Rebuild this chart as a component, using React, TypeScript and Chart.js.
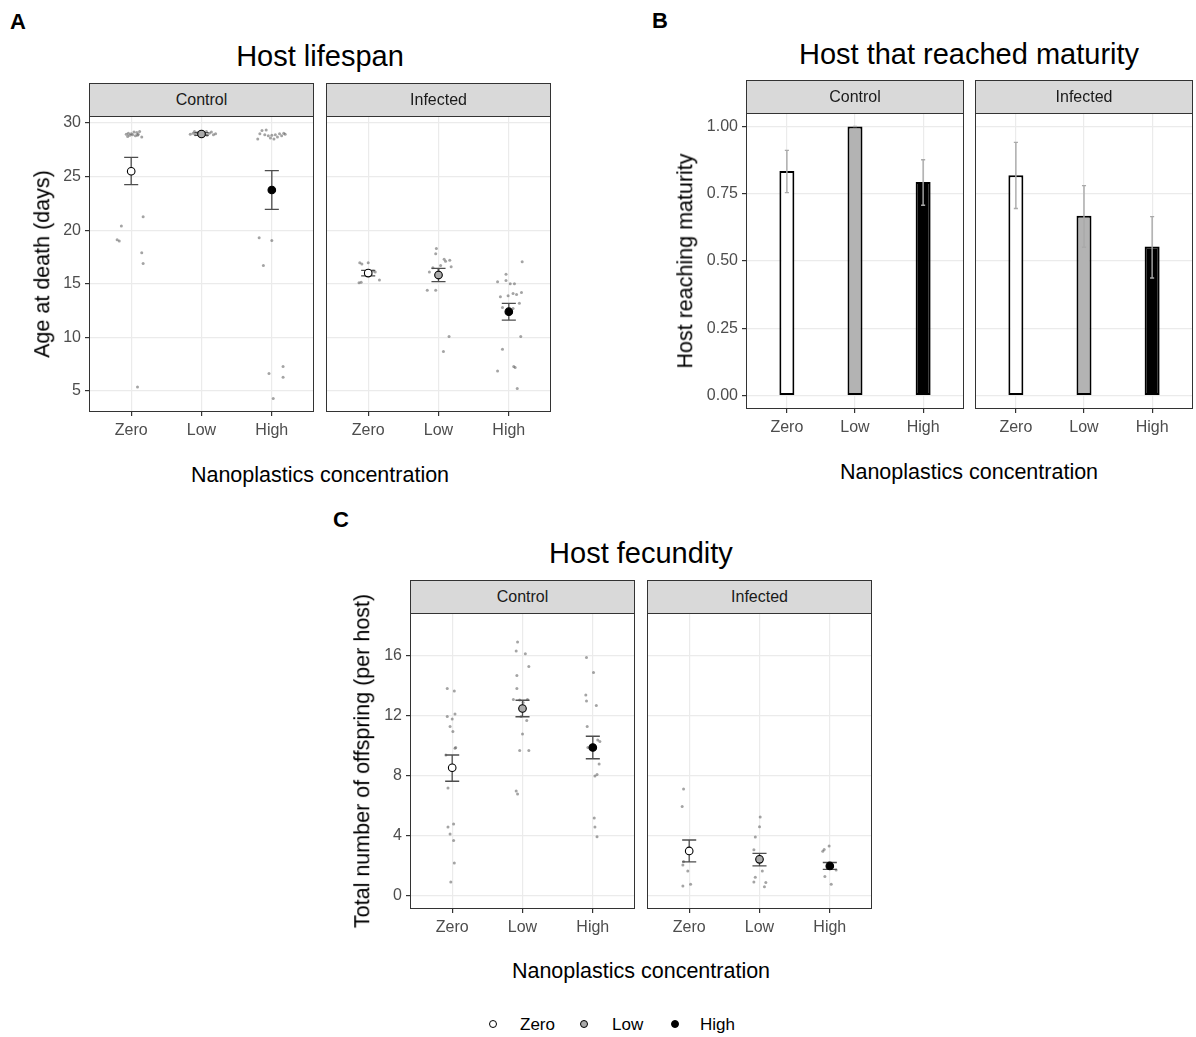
import React, { useEffect, useRef } from 'react';
import { Chart, registerables } from 'chart.js';

Chart.register(...registerables);

const FONT = '"Liberation Sans", Arial, Helvetica, sans-serif';

// ---------- shared ----------
const CATEGORIES = ['Zero', 'Low', 'High'];
const CAT_POS = [1, 2, 3];
const MEAN_FILLS = ['#ffffff', '#aaaaaa', '#000000'];
const BAR_FILLS = ['#ffffff', '#b3b3b3', '#000000'];

// ---------- A: Host lifespan ----------
const A_Y_TICKS = [5, 10, 15, 20, 25, 30];
const A_CTRL_X = [
  0.93, 0.96, 0.98, 1.0, 1.02, 1.04, 1.06, 1.08, 1.1, 1.12, 1.15, 0.95, 1.09,
  1.17, 0.86, 0.8, 0.83, 1.15, 1.17, 1.09,
  1.84, 1.88, 1.91, 1.94, 1.97, 2.0, 2.03, 2.05, 2.08, 2.11, 2.14, 2.17, 2.2, 1.9, 2.07,
  2.8, 2.83, 2.86, 2.9, 2.92, 2.95, 2.98, 3.0, 3.03, 3.05, 3.08, 3.11, 3.14, 3.17, 3.19,
  2.82, 3.0, 2.88, 2.96, 3.16, 3.16, 3.02,
];
const A_CTRL_Y = [
  28.95, 29.05, 28.85, 29.0, 28.9, 29.15, 28.8, 29.1, 28.95, 29.2, 28.7, 28.75, 28.85,
  21.26, 20.4, 19.1, 19.0, 17.9, 16.9, 5.37,
  28.95, 29.05, 28.9, 29.1, 28.85, 29.0, 29.1, 28.95, 28.85, 29.05, 29.15, 28.9, 29.0, 29.2, 29.2,
  28.5, 29.0, 29.3, 28.9, 29.35, 28.8, 28.6, 28.85, 28.5, 28.9, 28.7, 29.0, 28.8, 29.05, 28.95,
  19.3, 19.05, 16.7, 6.65, 7.3, 6.3, 4.3,
];
const A_CTRL_MEAN = [25.5, 28.97, 23.75];
const A_CTRL_LO = [24.25, 28.85, 21.95];
const A_CTRL_HI = [26.8, 29.1, 25.55];

const A_INF_X = [
  0.88, 0.91, 1.0, 1.1, 1.07, 0.98, 0.87, 0.9, 1.16, 1.04,
  1.97, 1.96, 2.08, 2.16, 2.03, 2.18, 1.87, 1.92, 2.0, 1.84, 1.96, 2.15, 2.07, 2.1,
  3.19, 2.96, 2.84, 2.96, 3.02, 3.08, 2.88, 2.99, 3.06, 3.11, 3.18, 3.15, 2.91, 3.06, 3.17, 2.91, 3.07, 3.09, 2.84, 3.12,
];
const A_INF_Y = [
  16.97, 16.85, 16.97, 16.1, 16.2, 16.05, 15.1, 15.15, 15.35, 15.9,
  18.3, 17.8, 17.3, 17.2, 16.7, 16.6, 16.1, 16.5, 16.3, 14.4, 14.4, 10.1, 8.7, 17.1,
  17.05, 15.9, 15.2, 15.3, 15.0, 15.0, 13.8, 13.9, 14.1, 14.0, 14.2, 13.2, 12.8, 12.7, 10.1, 8.9, 7.3, 7.2, 6.87, 5.25,
];
const A_INF_MEAN = [16.0, 15.82, 12.4];
const A_INF_LO = [15.75, 15.2, 11.62];
const A_INF_HI = [16.25, 16.44, 13.18];

// ---------- B: Host that reached maturity ----------
const B_Y_TICKS = [0, 0.25, 0.5, 0.75, 1.0];
const B_CTRL_VAL = [0.834, 1.0, 0.794];
const B_CTRL_LO = [0.754, 1.0, 0.707];
const B_CTRL_HI = [0.911, 1.0, 0.876];
const B_INF_VAL = [0.819, 0.668, 0.554];
const B_INF_LO = [0.695, 0.551, 0.437];
const B_INF_HI = [0.941, 0.78, 0.665];

// ---------- C: Host fecundity ----------
const C_Y_TICKS = [0, 4, 8, 12, 16];
const C_CTRL_X = [
  0.93, 1.03, 1.04, 0.93, 1.0, 0.97, 1.01, 1.05, 1.04, 0.91, 0.94, 1.02, 0.94, 0.97, 1.02, 1.03, 0.98,
  1.93, 1.91, 2.04, 2.09, 1.92, 1.92, 1.87, 1.96, 2.07, 2.01, 1.98, 2.06, 2.0, 1.96, 2.09, 1.91, 1.93,
  2.91, 3.01, 2.9, 2.91, 3.05, 2.92, 2.93, 3.07, 3.1, 3.09, 3.06, 3.03, 3.02, 3.03, 3.06,
];
const C_CTRL_Y = [
  13.84, 13.66, 12.13, 11.96, 11.8, 11.3, 10.96, 9.9, 9.85, 9.4, 7.2, 4.8, 4.6, 4.13, 3.7, 2.2, 0.93,
  16.93, 16.33, 16.16, 15.3, 14.7, 13.84, 13.1, 13.07, 13.1, 12.9, 11.96, 11.7, 10.8, 9.7, 9.7, 7.0, 6.8,
  15.9, 14.9, 13.4, 13.0, 12.7, 11.3, 9.9, 10.4, 10.3, 8.8, 8.1, 8.0, 5.2, 4.6, 3.95,
];
const C_CTRL_MEAN = [8.55, 12.5, 9.9];
const C_CTRL_LO = [7.65, 11.95, 9.15];
const C_CTRL_HI = [9.4, 13.05, 10.65];

const C_INF_X = [
  0.92, 0.9, 0.91, 0.98, 0.91, 1.02, 0.92,
  2.01, 2.0, 1.94, 1.92, 2.04, 1.94, 1.92, 2.09, 2.07,
  2.9, 2.92, 2.99, 2.93, 3.02, 3.09,
];
const C_INF_Y = [
  7.13, 5.96, 2.07, 1.67, 0.67, 0.78, 2.3,
  5.26, 4.62, 3.93, 3.08, 1.67, 1.24, 0.93, 0.89, 0.62,
  2.98, 3.1, 3.33, 1.3, 0.78, 1.73,
];
const C_INF_MEAN = [3.0, 2.44, 2.0];
const C_INF_LO = [2.27, 2.0, 1.77];
const C_INF_HI = [3.73, 2.84, 2.23];

// ---------- facet component ----------
type FacetSpec = {
  kind: 'dots' | 'bars';
  left: number;
  top: number;
  width: number;
  height: number;
  showY: boolean;
  yMin: number;
  yMax: number;
  yTicks: number[];
  yFmt: (v: number) => string;
  jx?: number[];
  jy?: number[];
  mean: number[];
  lo: number[];
  hi: number[];
};

const YW = 70;
const XH = 34;
const PAD_TOP = 10;

function Facet({ spec }: { spec: FacetSpec }) {
  const ref = useRef<HTMLCanvasElement | null>(null);
  const yw = spec.showY ? YW : 0;
  const cw = yw + spec.width;
  const ch = PAD_TOP + spec.height + XH;
  const canvasLeft = spec.left - yw;
  const canvasTop = spec.top - PAD_TOP;

  useEffect(() => {
    const canvas = ref.current;
    if (!canvas) return;

    const borderPlugin = {
      id: 'panelBorder',
      afterDraw(chart: any) {
        const a = chart.chartArea;
        const ctx = chart.ctx;
        ctx.save();
        ctx.strokeStyle = '#333333';
        ctx.lineWidth = 1;
        ctx.strokeRect(a.left + 0.5, a.top + 0.5, a.right - a.left - 1, a.bottom - a.top - 1);
        ctx.restore();
      },
    };

    const drawErr = (chart: any, color: string, lw: number, halfCap: number) => {
      const ctx = chart.ctx;
      const xs = chart.scales.x;
      const ys = chart.scales.y;
      ctx.save();
      ctx.strokeStyle = color;
      ctx.lineWidth = lw;
      spec.lo.forEach((lo, i) => {
        const x = xs.getPixelForValue(CAT_POS[i]);
        const hw = xs.getPixelForValue(CAT_POS[i] + halfCap) - x;
        const y1 = ys.getPixelForValue(lo);
        const y2 = ys.getPixelForValue(spec.hi[i]);
        ctx.beginPath();
        ctx.moveTo(x, y1);
        ctx.lineTo(x, y2);
        ctx.moveTo(x - hw, y1);
        ctx.lineTo(x + hw, y1);
        ctx.moveTo(x - hw, y2);
        ctx.lineTo(x + hw, y2);
        ctx.stroke();
      });
      ctx.restore();
    };

    const errPlugin =
      spec.kind === 'dots'
        ? {
            id: 'errDots',
            afterDatasetDraw(chart: any, args: any) {
              if (args.index !== 1) return;
              drawErr(chart, '#4d4d4d', 1.3, 0.1);
            },
          }
        : {
            id: 'errBars',
            afterDatasetsDraw(chart: any) {
              drawErr(chart, '#a9a9a9', 1.4, 0.03);
            },
          };

    const datasets: any[] =
      spec.kind === 'dots'
        ? [
            {
              type: 'scatter',
              data: spec.mean.map((m, i) => ({ x: CAT_POS[i], y: m })),
              pointRadius: 3.8,
              pointBackgroundColor: MEAN_FILLS,
              pointBorderColor: '#000000',
              pointBorderWidth: 1.1,
            },
            {
              type: 'scatter',
              data: (spec.jx || []).map((x, i) => ({ x, y: (spec.jy || [])[i] })),
              pointRadius: 1.5,
              pointBackgroundColor: 'rgba(90,90,90,0.55)',
              pointBorderWidth: 0,
            },
          ]
        : [
            {
              type: 'bar',
              data: spec.mean.map((m, i) => ({ x: CAT_POS[i], y: m })),
              backgroundColor: BAR_FILLS,
              borderColor: '#000000',
              borderWidth: 2,
              borderSkipped: false,
              barPercentage: 0.22,
              categoryPercentage: 1,
            },
          ];

    const tickFont = { family: FONT, size: 16 };

    const chart = new Chart(canvas, {
      type: spec.kind === 'dots' ? 'scatter' : 'bar',
      data: { datasets },
      options: {
        responsive: false,
        animation: false,
        devicePixelRatio: 1,
        events: [],
        layout: { padding: { top: PAD_TOP, left: 0, right: 0, bottom: 0 }, autoPadding: false },
        plugins: {
          legend: { display: false },
          tooltip: { enabled: false },
          title: { display: false },
        },
        scales: {
          x: {
            type: 'linear',
            position: 'bottom',
            offset: false,
            min: 0.4,
            max: 3.6,
            afterBuildTicks: (s: any) => {
              s.ticks = CAT_POS.map((v) => ({ value: v }));
            },
            afterFit: (s: any) => {
              s.height = XH;
              s.paddingLeft = 0;
              s.paddingRight = 0;
              s.paddingTop = 0;
              s.paddingBottom = 0;
            },
            ticks: {
              callback: (v: any) => {
                const i = CAT_POS.indexOf(Number(v));
                return i >= 0 ? CATEGORIES[i] : '';
              },
              color: '#4d4d4d',
              font: tickFont,
              padding: 5,
              autoSkip: false,
              maxRotation: 0,
              minRotation: 0,
            },
            grid: {
              offset: false,
              color: '#ebebeb',
              lineWidth: 1.2,
              tickColor: '#333333',
              tickLength: 4,
              drawTicks: true,
            },
            border: { display: false },
          },
          y: {
            type: 'linear',
            position: 'left',
            min: spec.yMin,
            max: spec.yMax,
            afterBuildTicks: (s: any) => {
              s.ticks = spec.yTicks.map((v) => ({ value: v }));
            },
            afterFit: (s: any) => {
              s.width = yw;
              s.paddingLeft = 0;
              s.paddingRight = 0;
              s.paddingTop = 0;
              s.paddingBottom = 0;
            },
            ticks: {
              display: spec.showY,
              callback: (v: any) => spec.yFmt(Number(v)),
              color: '#4d4d4d',
              font: tickFont,
              padding: 4,
              autoSkip: false,
            },
            grid: {
              color: '#ebebeb',
              lineWidth: 1.2,
              tickColor: '#333333',
              tickLength: 4,
              drawTicks: spec.showY,
            },
            border: { display: false },
          },
        },
      } as any,
      plugins: [errPlugin as any, borderPlugin as any],
    } as any);

    return () => chart.destroy();
  }, []);

  return (
    <canvas
      ref={ref}
      width={cw}
      height={ch}
      style={{ position: 'absolute', left: canvasLeft, top: canvasTop, width: cw, height: ch, display: 'block' }}
    />
  );
}

function Strip({ left, top, width, height, label }: { left: number; top: number; width: number; height: number; label: string }) {
  return (
    <div
      style={{
        position: 'absolute',
        left,
        top,
        width,
        height,
        boxSizing: 'border-box',
        border: '1px solid #333333',
        background: '#d9d9d9',
        color: '#1a1a1a',
        fontFamily: FONT,
        fontSize: 16,
        display: 'flex',
        alignItems: 'center',
        justifyContent: 'center',
      }}
    >
      {label}
    </div>
  );
}

function Txt({
  x,
  y,
  size,
  bold,
  rotate,
  color,
  children,
}: {
  x: number;
  y: number;
  size: number;
  bold?: boolean;
  rotate?: boolean;
  color?: string;
  children: React.ReactNode;
}) {
  return (
    <div
      style={{
        position: 'absolute',
        left: x,
        top: y,
        transform: `translate(-50%, -50%)${rotate ? ' rotate(-90deg)' : ''}`,
        fontFamily: FONT,
        fontSize: size,
        fontWeight: bold ? 'bold' : 'normal',
        lineHeight: 1,
        whiteSpace: 'nowrap',
        color: color || '#000000',
      }}
    >
      {children}
    </div>
  );
}

const fmtInt = (v: number) => String(v);
const fmt2 = (v: number) => v.toFixed(2);

const FACETS: FacetSpec[] = [
  { kind: 'dots', left: 89, top: 116, width: 225, height: 296, showY: true, yMin: 3.05, yMax: 30.65, yTicks: A_Y_TICKS, yFmt: fmtInt, jx: A_CTRL_X, jy: A_CTRL_Y, mean: A_CTRL_MEAN, lo: A_CTRL_LO, hi: A_CTRL_HI },
  { kind: 'dots', left: 326, top: 116, width: 225, height: 296, showY: false, yMin: 3.05, yMax: 30.65, yTicks: A_Y_TICKS, yFmt: fmtInt, jx: A_INF_X, jy: A_INF_Y, mean: A_INF_MEAN, lo: A_INF_LO, hi: A_INF_HI },
  { kind: 'bars', left: 746, top: 113, width: 218, height: 296, showY: true, yMin: -0.05, yMax: 1.05, yTicks: B_Y_TICKS, yFmt: fmt2, mean: B_CTRL_VAL, lo: B_CTRL_LO, hi: B_CTRL_HI },
  { kind: 'bars', left: 975, top: 113, width: 218, height: 296, showY: false, yMin: -0.05, yMax: 1.05, yTicks: B_Y_TICKS, yFmt: fmt2, mean: B_INF_VAL, lo: B_INF_LO, hi: B_INF_HI },
  { kind: 'dots', left: 410, top: 613, width: 225, height: 296, showY: true, yMin: -0.87, yMax: 18.87, yTicks: C_Y_TICKS, yFmt: fmtInt, jx: C_CTRL_X, jy: C_CTRL_Y, mean: C_CTRL_MEAN, lo: C_CTRL_LO, hi: C_CTRL_HI },
  { kind: 'dots', left: 647, top: 613, width: 225, height: 296, showY: false, yMin: -0.87, yMax: 18.87, yTicks: C_Y_TICKS, yFmt: fmtInt, jx: C_INF_X, jy: C_INF_Y, mean: C_INF_MEAN, lo: C_INF_LO, hi: C_INF_HI },
];

const STRIPS = [
  { left: 89, top: 83, width: 225, height: 34, label: 'Control' },
  { left: 326, top: 83, width: 225, height: 34, label: 'Infected' },
  { left: 746, top: 80, width: 218, height: 34, label: 'Control' },
  { left: 975, top: 80, width: 218, height: 34, label: 'Infected' },
  { left: 410, top: 580, width: 225, height: 34, label: 'Control' },
  { left: 647, top: 580, width: 225, height: 34, label: 'Infected' },
];

function LegendDot({ x, y, fill }: { x: number; y: number; fill: string }) {
  return (
    <div
      style={{
        position: 'absolute',
        left: x - 4,
        top: y - 4,
        width: 8,
        height: 8,
        boxSizing: 'border-box',
        borderRadius: '50%',
        border: '1px solid #000000',
        background: fill,
      }}
    />
  );
}

export default function App() {
  return (
    <div style={{ position: 'absolute', left: 0, top: 0, width: 1196, height: 1037, background: '#ffffff', overflow: 'hidden' }}>
      {FACETS.map((f, i) => (
        <Facet key={i} spec={f} />
      ))}
      {STRIPS.map((s, i) => (
        <Strip key={i} {...s} />
      ))}

      <Txt x={18} y={22} size={22} bold>A</Txt>
      <Txt x={660} y={21} size={22} bold>B</Txt>
      <Txt x={341} y={520} size={22} bold>C</Txt>

      <Txt x={320} y={56} size={29}>Host lifespan</Txt>
      <Txt x={969} y={54} size={29}>Host that reached maturity</Txt>
      <Txt x={641} y={553} size={29}>Host fecundity</Txt>

      <Txt x={320} y={476} size={21.5}>Nanoplastics concentration</Txt>
      <Txt x={969} y={473} size={21.5}>Nanoplastics concentration</Txt>
      <Txt x={641} y={972} size={21.5}>Nanoplastics concentration</Txt>

      <Txt x={43} y={264} size={21.5} rotate>Age at death (days)</Txt>
      <Txt x={686} y={261} size={21.5} rotate>Host reaching maturity</Txt>
      <Txt x={363} y={761} size={21.5} rotate>Total number of offspring (per host)</Txt>

      <LegendDot x={493} y={1024} fill={MEAN_FILLS[0]} />
      <LegendDot x={584} y={1024} fill={MEAN_FILLS[1]} />
      <LegendDot x={675} y={1024} fill={MEAN_FILLS[2]} />
      <div style={{ position: 'absolute', left: 520, top: 1024, transform: 'translateY(-50%)', fontFamily: FONT, fontSize: 17, lineHeight: 1 }}>{CATEGORIES[0]}</div>
      <div style={{ position: 'absolute', left: 612, top: 1024, transform: 'translateY(-50%)', fontFamily: FONT, fontSize: 17, lineHeight: 1 }}>{CATEGORIES[1]}</div>
      <div style={{ position: 'absolute', left: 700, top: 1024, transform: 'translateY(-50%)', fontFamily: FONT, fontSize: 17, lineHeight: 1 }}>{CATEGORIES[2]}</div>
    </div>
  );
}
